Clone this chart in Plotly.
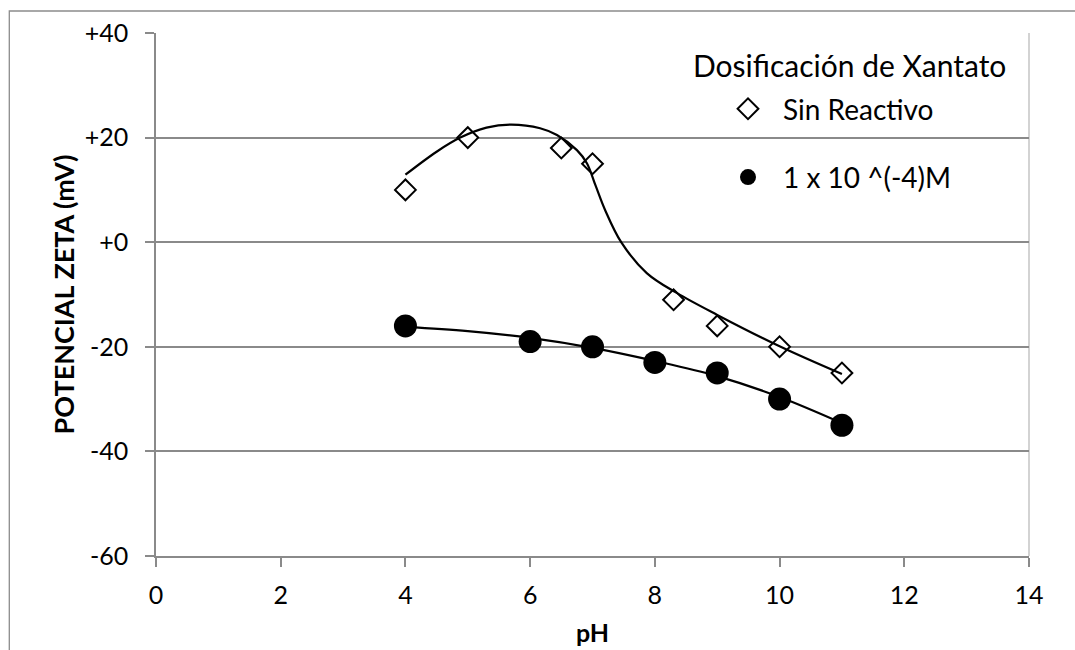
import plotly.graph_objects as go

# ---- data ----
ph_sin = [4, 5, 6.5, 7, 8.3, 9, 10, 11]
zeta_sin = [10, 20, 18, 15, -11, -16, -20, -25]

ph_xan = [4, 6, 7, 8, 9, 10, 11]
zeta_xan = [-16, -19, -20, -23, -25, -30, -35]

# smoothed trend lines as drawn in the reference
trend_sin_ph = [4.0, 4.5, 4.88, 5.3, 5.7, 6.16, 6.43, 6.75, 6.91, 7.05, 7.2, 7.46, 7.87, 8.35, 9.0, 10.0, 11.0]
trend_sin_mv = [12.9, 17.3, 20.0, 21.9, 22.5, 21.8, 20.5, 17.6, 15.1, 10.8, 6.2, 0.0, -5.9, -9.7, -13.9, -19.9, -25.2]
trend_xan_ph = [4, 5, 6, 7, 8, 9, 10, 11]
trend_xan_mv = [-16.2, -17.0, -18.3, -20.2, -22.7, -25.6, -29.6, -34.6]

x_ticks = [0, 2, 4, 6, 8, 10, 12, 14]
y_ticks = [-60, -40, -20, 0, 20, 40]
y_ticktext = ["-60", "-40", "-20", "+0", "+20", "+40"]

legend_title = "Dosificación de Xantato"
name_sin = "Sin Reactivo"
name_xan = "1 x 10 ^(-4)M"

FONT = "Lato"
GRID = "#8a8a8a"

# plot-area geometry in pixels
L, R, T, B = 156, 46, 33, 94
PW, PH = 1075 - L - R, 650 - T - B


def px_x(p):
    return (p - L) / PW


def px_y(p):
    return (650 - B - p) / PH


fig = go.Figure()

fig.add_trace(go.Scatter(
    x=ph_sin, y=zeta_sin, mode="markers", name=name_sin,
    legendgroup="a",
    marker=dict(symbol="diamond", size=16, color="white",
                line=dict(color="black", width=2)),
))
fig.add_trace(go.Scatter(
    x=ph_xan, y=zeta_xan, mode="markers", name=name_xan,
    legendgroup="b",
    marker=dict(symbol="circle", size=23, color="black",
                line=dict(color="black", width=0)),
))
fig.add_trace(go.Scatter(
    x=trend_sin_ph, y=trend_sin_mv, mode="lines", showlegend=False,
    line=dict(color="black", width=2.2, shape="spline", smoothing=1.0),
    hoverinfo="skip",
))
fig.add_trace(go.Scatter(
    x=trend_xan_ph, y=trend_xan_mv, mode="lines", showlegend=False,
    line=dict(color="black", width=2.2, shape="spline", smoothing=1.0),
    hoverinfo="skip",
))

fig.update_layout(
    width=1075, height=650,
    margin=dict(l=L, r=R, t=T, b=B, autoexpand=False),
    paper_bgcolor="white", plot_bgcolor="white",
    font=dict(family=FONT, color="black", size=25),
    showlegend=True,
    legend=dict(
        font=dict(size=28, family=FONT),
        x=px_x(713), y=px_y(84), xanchor="left", yanchor="top",
        bgcolor="rgba(0,0,0,0)", borderwidth=0,
        tracegroupgap=29, itemwidth=60,
    ),
    xaxis=dict(
        range=[0, 14], tickvals=x_ticks, ticks="outside", ticklen=9,
        tickcolor=GRID, tickwidth=1.5, showline=True, linecolor=GRID, linewidth=1.5,
        showgrid=False, zeroline=False,
        tickfont=dict(size=25, family=FONT), ticklabelstandoff=7,
        title=dict(text="<b>pH</b>", font=dict(size=25, family=FONT), standoff=17),
    ),
    yaxis=dict(
        range=[-60, 40], tickvals=y_ticks, ticktext=y_ticktext, ticks="outside", ticklen=9,
        tickcolor=GRID, tickwidth=1.5, showline=True, linecolor=GRID, linewidth=1.5,
        showgrid=True, gridcolor=GRID, gridwidth=1.5, zeroline=False,
        tickfont=dict(size=25, family=FONT), ticklabelstandoff=12,
        title=dict(text="<b>POTENCIAL ZETA (mV)</b>", font=dict(size=27, family=FONT), standoff=2),
    ),
    annotations=[
        dict(text=legend_title, xref="paper", yref="paper",
             x=px_x(849), y=px_y(65), xanchor="center", yanchor="middle",
             showarrow=False, font=dict(size=30, family=FONT, color="black")),
    ],
    shapes=[
        # outer chart-area border (left and top visible)
        dict(type="rect", xref="paper", yref="paper",
             x0=px_x(9.3), x1=px_x(1200), y0=px_y(800), y1=px_y(11),
             line=dict(color="#8c8c8c", width=1.3), fillcolor="rgba(0,0,0,0)", layer="below"),
        # right plot-area border
        dict(type="line", xref="paper", yref="paper", x0=1, x1=1, y0=0, y1=1,
             line=dict(color="#c4c4c4", width=1.5), layer="below"),
    ],
)

fig.write_html("out.html")
